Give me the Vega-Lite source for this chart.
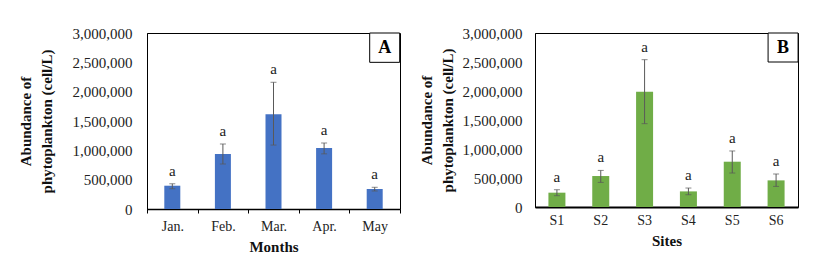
{
  "$schema": "https://vega.github.io/schema/vega-lite/v6.json",
  "background": "white",
  "padding": {"left": 17, "top": 25, "right": 0, "bottom": 0},
  "spacing": 18,
  "config": {
    "font": "Liberation Serif",
    "text": {"font": "Liberation Serif"},
    "view": {"stroke": "#000", "strokeWidth": 1},
    "axis": {"labelFont": "Liberation Serif", "titleFont": "Liberation Serif", "labelColor": "#222", "titleColor": "#111", "domainColor": "#000", "grid": false}
  },
  "hconcat": [
    {
      "width": 253,
      "height": 176,
      "data": {"values": [
        {"cat": "Jan.", "mean": 397000, "lo": 345000, "hi": 430000, "sig": "a"},
        {"cat": "Feb.", "mean": 937000, "lo": 767000, "hi": 1108000, "sig": "a"},
        {"cat": "Mar.", "mean": 1614000, "lo": 1090000, "hi": 2160000, "sig": "a"},
        {"cat": "Apr.", "mean": 1040000, "lo": 940000, "hi": 1125000, "sig": "a"},
        {"cat": "May", "mean": 341000, "lo": 307000, "hi": 370000, "sig": "a"}
      ]},
      "encoding": {
        "x": {"field": "cat", "type": "nominal", "sort": null,
          "scale": {"paddingInner": 0, "paddingOuter": 0},
          "axis": {"title": "Months", "labelFont": "Liberation Serif", "titleFont": "Liberation Serif", "labelAngle": 0, "labelFontSize": 14, "titleFontSize": 15, "titleFontWeight": "bold", "labelPadding": 6, "titlePadding": 6, "tickBand": "extent", "tickSize": 4, "tickColor": "#000", "domainWidth": 1.5}}
      },
      "layer": [
        {"mark": {"type": "bar", "color": "#4472C4", "width": 16},
         "encoding": {"y": {"field": "mean", "type": "quantitative",
           "scale": {"domain": [0, 3000000]},
           "axis": {"title": ["Abundance of", "phytoplankton (cell/L)"], "labelFont": "Liberation Serif", "titleFont": "Liberation Serif", "titleFontSize": 15, "titleFontWeight": "bold", "titleLineHeight": 21, "labelFontSize": 15, "labelPadding": 15, "ticks": false, "tickCount": 6, "format": ",d", "titlePadding": 18}}}},
        {"mark": {"type": "rule", "color": "#595959", "strokeWidth": 1},
         "encoding": {"y": {"field": "lo", "type": "quantitative"}, "y2": {"field": "hi"}}},
        {"mark": {"type": "tick", "color": "#595959", "size": 6, "thickness": 1},
         "encoding": {"y": {"field": "lo", "type": "quantitative"}}},
        {"mark": {"type": "tick", "color": "#595959", "size": 6, "thickness": 1},
         "encoding": {"y": {"field": "hi", "type": "quantitative"}}},
        {"mark": {"type": "text", "font": "Liberation Serif", "fontSize": 15, "dy": -8, "baseline": "alphabetic", "color": "#222"},
         "encoding": {"y": {"field": "hi", "type": "quantitative"}, "text": {"field": "sig"}}},
        {"data": {"values": [{"cat": "May", "lo": 2500000, "hi": 3000000, "label": "A"}]},
         "mark": {"type": "rect", "fill": "white", "stroke": "#000", "strokeWidth": 1, "width": 30, "xOffset": 10},
         "encoding": {"y": {"field": "lo", "type": "quantitative"}, "y2": {"field": "hi"}}},
        {"data": {"values": [{"cat": "May", "mid": 2750000, "label": "A"}]},
         "mark": {"type": "text", "font": "Liberation Serif", "fontSize": 18, "fontWeight": "bold", "xOffset": 10, "baseline": "middle", "color": "#000"},
         "encoding": {"y": {"field": "mid", "type": "quantitative"}, "text": {"field": "label"}}}
      ]
    },
    {
      "width": 263,
      "height": 174,
      "data": {"values": [
        {"cat": "S1", "mean": 247000, "lo": 195000, "hi": 298000, "sig": "a"},
        {"cat": "S2", "mean": 534000, "lo": 424000, "hi": 631000, "sig": "a"},
        {"cat": "S3", "mean": 1988000, "lo": 1437000, "hi": 2540000, "sig": "a"},
        {"cat": "S4", "mean": 269000, "lo": 212000, "hi": 327000, "sig": "a"},
        {"cat": "S5", "mean": 781000, "lo": 586000, "hi": 966000, "sig": "a"},
        {"cat": "S6", "mean": 459000, "lo": 355000, "hi": 569000, "sig": "a"}
      ]},
      "encoding": {
        "x": {"field": "cat", "type": "nominal", "sort": null,
          "scale": {"paddingInner": 0, "paddingOuter": 0},
          "axis": {"title": "Sites", "labelFont": "Liberation Serif", "titleFont": "Liberation Serif", "labelAngle": 0, "labelFontSize": 14, "titleFontSize": 15, "titleFontWeight": "bold", "labelPadding": 6, "titlePadding": 6, "ticks": false, "domainWidth": 2}}
      },
      "layer": [
        {"mark": {"type": "bar", "color": "#70AD47", "width": 17},
         "encoding": {"y": {"field": "mean", "type": "quantitative",
           "scale": {"domain": [0, 3000000]},
           "axis": {"title": ["Abundance of", "phytoplankton (cell/L)"], "labelFont": "Liberation Serif", "titleFont": "Liberation Serif", "titleFontSize": 15, "titleFontWeight": "bold", "titleLineHeight": 21, "labelFontSize": 15, "labelPadding": 13, "ticks": false, "tickCount": 6, "format": ",d", "titlePadding": 6.5}}}},
        {"mark": {"type": "rule", "color": "#595959", "strokeWidth": 1},
         "encoding": {"y": {"field": "lo", "type": "quantitative"}, "y2": {"field": "hi"}}},
        {"mark": {"type": "tick", "color": "#595959", "size": 6, "thickness": 1},
         "encoding": {"y": {"field": "lo", "type": "quantitative"}}},
        {"mark": {"type": "tick", "color": "#595959", "size": 6, "thickness": 1},
         "encoding": {"y": {"field": "hi", "type": "quantitative"}}},
        {"mark": {"type": "text", "font": "Liberation Serif", "fontSize": 15, "dy": -8, "baseline": "alphabetic", "color": "#222"},
         "encoding": {"y": {"field": "hi", "type": "quantitative"}, "text": {"field": "sig"}}},
        {"data": {"values": [{"cat": "S6", "lo": 2500000, "hi": 3000000, "label": "B"}]},
         "mark": {"type": "rect", "fill": "white", "stroke": "#000", "strokeWidth": 1, "width": 30, "xOffset": 7},
         "encoding": {"y": {"field": "lo", "type": "quantitative"}, "y2": {"field": "hi"}}},
        {"data": {"values": [{"cat": "S6", "mid": 2750000, "label": "B"}]},
         "mark": {"type": "text", "font": "Liberation Serif", "fontSize": 18, "fontWeight": "bold", "xOffset": 7, "baseline": "middle", "color": "#000"},
         "encoding": {"y": {"field": "mid", "type": "quantitative"}, "text": {"field": "label"}}}
      ]
    }
  ]
}
